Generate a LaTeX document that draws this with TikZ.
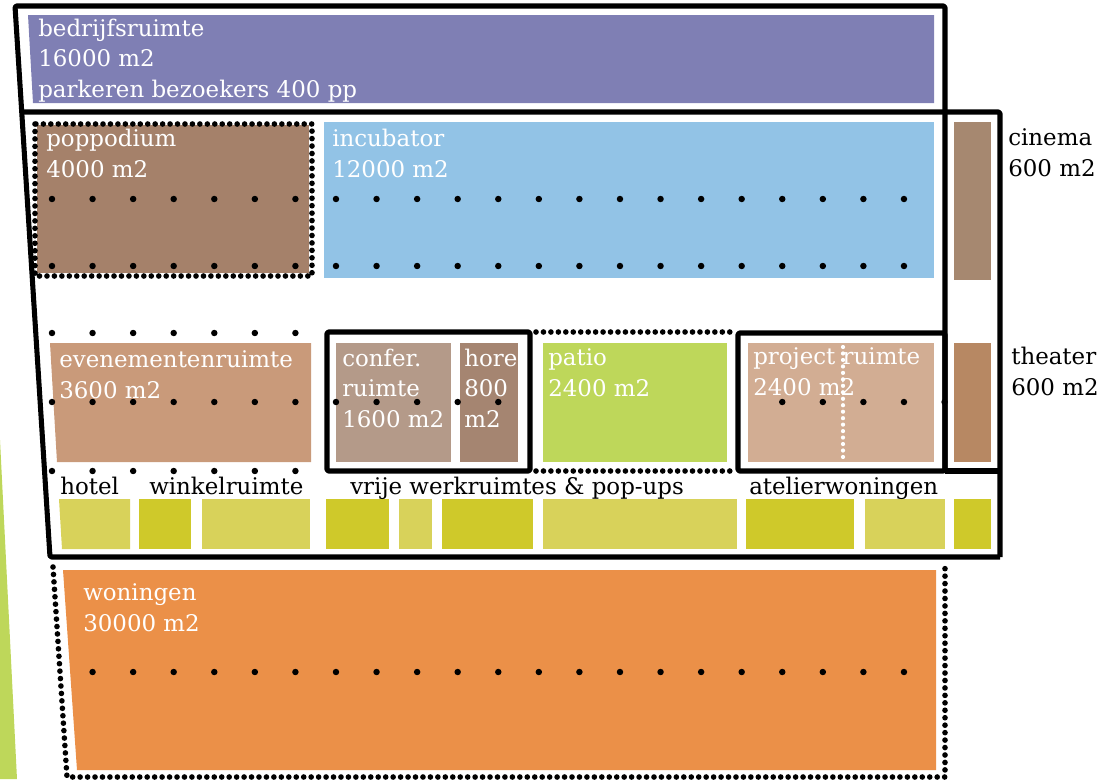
\documentclass[tikz,border=0pt]{standalone}
\usepackage{fontspec}
\setmainfont{DejaVu Serif}
\definecolor{bedrijfcol}{RGB}{127,127,180}
\definecolor{poppocol}{RGB}{165,129,106}
\definecolor{incubcol}{RGB}{146,195,230}
\definecolor{cinemacol}{RGB}{166,136,112}
\definecolor{theatercol}{RGB}{183,136,99}
\definecolor{eventcol}{RGB}{201,154,122}
\definecolor{confercol}{RGB}{180,154,137}
\definecolor{horecol}{RGB}{165,133,113}
\definecolor{patiocol}{RGB}{190,215,90}
\definecolor{projectcol}{RGB}{210,173,147}
\definecolor{olivelight}{RGB}{216,210,90}
\definecolor{olivedark}{RGB}{207,201,42}
\definecolor{woningcol}{RGB}{235,144,72}

\begin{document}
\begin{tikzpicture}[x=0.025cm,y=-0.025cm]
	\tikzstyle{white text}=[anchor=base west,inner sep=0pt,text=white,align=left,font=\fontsize{16.3}{21.6}\selectfont]
	\tikzstyle{black text}=[white text,text=black]
	\tikzstyle{frame}=[draw,line width=3.6pt,black,line join=round,rounded corners=1pt]
	\tikzstyle{dotted border}=[draw,line width=4pt,line cap=round,dash pattern=on 0pt off 5.3pt]
	\tikzstyle{white dots}=[dotted border,white,line width=3pt,dash pattern=on 0pt off 4.6pt]

	\useasboundingbox (0,0) rectangle (1106,779);

	\fill[patiocol] (0,440) -- (17,779) -- (0,779) -- cycle;

	\fill[bedrijfcol] (28,15) -- (934,15) -- (934,103) -- (33,103) -- cycle;
	\fill[poppocol] (37,125) rectangle (309,273);
	\fill[incubcol] (324,122) rectangle (934,278);
	\fill[cinemacol] (954,122) rectangle (991,280);
	\fill[eventcol] (50,343) -- (311,343) -- (311,462) -- (57,462) -- cycle;
	\fill[confercol] (336,343) rectangle (451,462);
	\fill[horecol] (460,343) rectangle (518,462);
	\fill[patiocol] (543,343) rectangle (727,462);
	\fill[projectcol] (748,343) rectangle (934,462);
	\fill[theatercol] (954,343) rectangle (991,462);

	\fill[olivelight] (59,499) -- (130,499) -- (130,549) -- (62,549) -- cycle;
	\fill[olivedark] (139,499) rectangle (191,549);
	\fill[olivelight] (202,499) rectangle (310,549);
	\fill[olivedark] (326,499) rectangle (389,549);
	\fill[olivelight] (399,499) rectangle (432,549);
	\fill[olivedark] (442,499) rectangle (533,549);
	\fill[olivelight] (543,499) rectangle (737,549);
	\fill[olivedark] (746,499) rectangle (854,549);
	\fill[olivelight] (865,499) rectangle (945,549);
	\fill[olivedark] (954,499) rectangle (991,549);

	\fill[woningcol] (63,570) -- (936,570) -- (936,770) -- (77,770) -- cycle;

	\foreach \k in {0,...,21} {
		\fill (52+40.57*\k,199) circle (2.3pt);
		\fill (52+40.57*\k,266) circle (2.3pt);
	}
	\foreach \k in {0,...,6} {
		\fill (52+40.57*\k,333) circle (2.3pt);
		\fill (52+40.57*\k,471) circle (2.3pt);
	}
	\foreach \k in {0,1,2,3,4,5,6,7,8,9,10,11,18,19,20,21,22}
		\fill (52+40.57*\k,402) circle (2.3pt);
	\foreach \k in {1,...,21}
		\fill (52+40.57*\k,672) circle (2.3pt);

	\path[dotted border] (35,124) rectangle (312,276);
	\path[dotted border] (536,332) -- (734,332);
	\path[dotted border] (536,471) -- (734,471);
	\path[dotted border] (53,567) -- (67,777) -- (945,777) -- (945,567);
	\path[white dots] (843,347) -- (843,459);

	\draw[frame] (1000,557) -- (50,557) -- (15,6) -- (945,6) -- (945,471);
	\draw[frame] (22,112) -- (1000,112) -- (1000,557);
	\draw[frame] (945,471) -- (1000,471);
	\draw[frame] (327,332) rectangle (530,471);
	\draw[frame] (738,333) rectangle (945,471);

	\node[white text] (bedrijf) at (38,97) {bedrijfsruimte\\16000 m2\\parkeren bezoekers 400 pp};
	\node[white text] (poppo) at (46,177) {poppodium\\4000 m2};
	\node[white text] (incub) at (332,177) {incubator\\12000 m2};
	\node[white text] (event) at (59,398) {evenementenruimte\\3600 m2};
	\node[white text] (confer) at (342,427) {confer.\\ruimte\\1600 m2};
	\node[white text] (hore) at (464,427) {hore\\800\\m2};
	\node[white text] (patio) at (548,396) {patio\\2400 m2};
	\node[white text] (project) at (753,395) {project ruimte\\2400 m2};
	\node[white text] (woning) at (83,631) {woningen\\30000 m2};

	\node[black text] (cinema) at (1008,176) {cinema\\600 m2};
	\node[black text] (theater) at (1011,395) {theater\\600 m2};
	\node[black text] (hotel) at (60,494) {hotel};
	\node[black text] (winkel) at (149,494) {winkelruimte};
	\node[black text] (vrije) at (350,494) {vrije werkruimtes \& pop-ups};
	\node[black text] (atelier) at (749,494) {atelierwoningen};
\end{tikzpicture}
\end{document}
